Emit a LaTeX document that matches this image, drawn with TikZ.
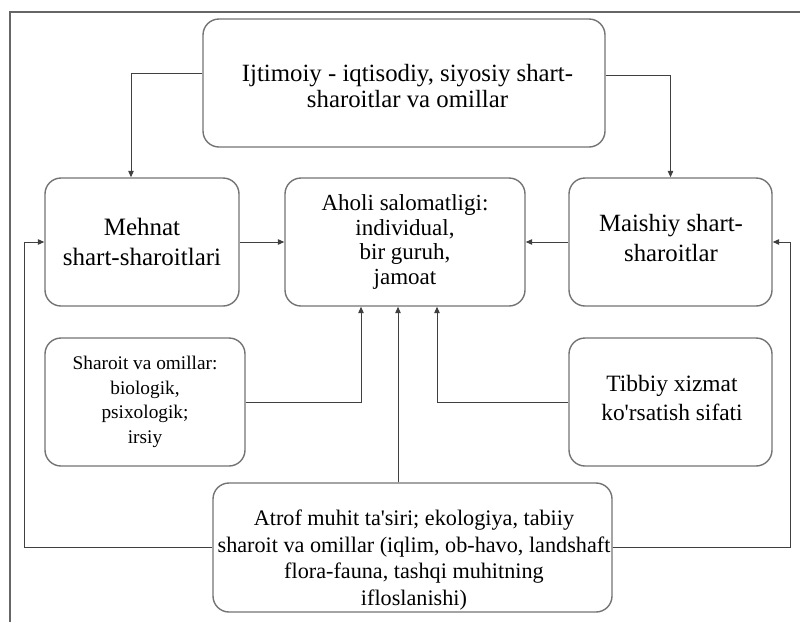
\documentclass[tikz,border=0pt]{standalone}
\usepackage{fontspec}
\setmainfont{Liberation Serif}[Ligatures=TeXOff]
\usetikzlibrary{arrows.meta}
\begin{document}
\begin{tikzpicture}[x=1pt,y=-1pt,
  box/.style={draw=black!55, line width=1.4pt, rounded corners=16pt, align=center, inner sep=0pt},
  txt/.style={align=center, inner sep=0pt},
  conn/.style={draw=black!75, line width=1pt, -{Triangle[length=6.5pt,width=5.5pt]}}]
\useasboundingbox (0,0) rectangle (800,622);
\draw[black!60, line width=1.3pt] (10,622) -- (10,12) -- (800,12);

\node[box, minimum width=402pt, minimum height=128pt] (top) at (404,83) {};
\node[txt, font=\fontsize{24.8}{26}\selectfont] (toptext) at (407.5,86)
  {Ijtimoiy - iqtisodiy, siyosiy shart-\\ sharoitlar va omillar};
\node[box, minimum width=194pt, minimum height=128pt, font=\fontsize{25}{30}\selectfont] (mehnat) at (142,242)
  {Mehnat\\ shart-sharoitlari};
\node[box, minimum width=240pt, minimum height=128pt, font=\fontsize{23}{24.8}\selectfont] (aholi) at (405,242)
  {Aholi salomatligi:\\ individual,\\ bir guruh,\\ jamoat};
\node[box, minimum width=203pt, minimum height=128pt] (maishiy) at (670.5,242) {};
\node[txt, font=\fontsize{24.8}{30}\selectfont] (maishiytext) at (671,238)
  {Maishiy shart-\\ sharoitlar};
\node[box, minimum width=200pt, minimum height=128pt, font=\fontsize{19.3}{24.5}\selectfont] (sharoit) at (145,402)
  {Sharoit va omillar:\\ biologik,\\ psixologik;\\ irsiy};
\node[box, minimum width=203pt, minimum height=128pt] (tibbiy) at (670.5,402) {};
\node[txt, font=\fontsize{23.4}{29}\selectfont] (tibbiytext) at (672,398)
  {Tibbiy xizmat\\ ko'rsatish sifati};
\node[box, minimum width=399pt, minimum height=129pt] (atrof) at (412.5,547.5) {};
\node[txt, font=\fontsize{22.2}{26.7}\selectfont] (atroftext) at (414,560)
  {Atrof muhit ta'siri; ekologiya, tabiiy\\ sharoit va omillar (iqlim, ob-havo, landshaft\\ flora-fauna, tashqi muhitning\\ ifloslanishi)};

\draw[conn] (top.west |- 0,73) -| (mehnat.north -| 131,0);
\draw[conn] (top.east |- 0,75) -| (maishiy.north);
\draw[conn] (mehnat.east) -- (aholi.west);
\draw[conn] (maishiy.west) -- (aholi.east);
\draw[conn] (sharoit.east) -| (aholi.south -| 361,0);
\draw[conn] (tibbiy.west) -| (aholi.south -| 437,0);
\draw[conn] (atrof.north -| 398,0) -- (aholi.south -| 398,0);
\draw[conn] (atrof.west) -| (24,242) -- (mehnat.west);
\draw[conn] (atrof.east) -| (790,242) -- (maishiy.east);
\end{tikzpicture}
\end{document}
